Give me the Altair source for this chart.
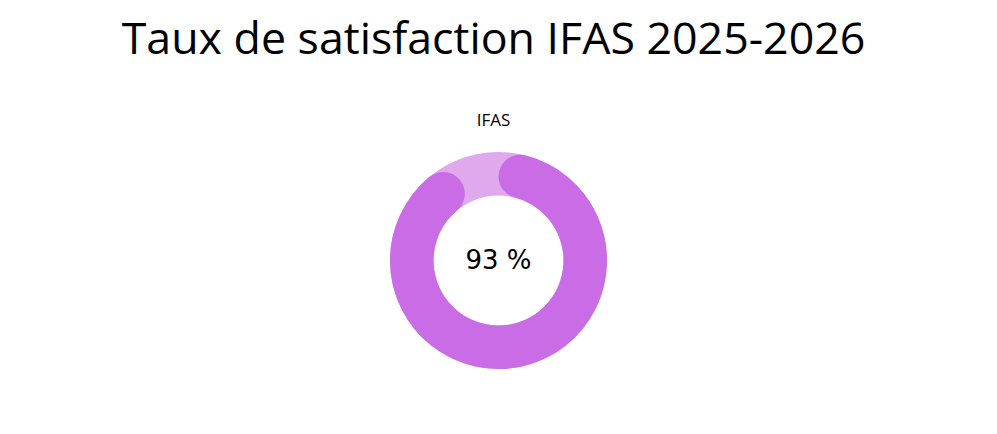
import altair as alt
import pandas as pd

title_text = "Taux de satisfaction IFAS 2025-2026"
subtitle_text = "IFAS"
satisfaction = [0.93]
label = ["93 %"]

bg = pd.DataFrame({"start": [0.0], "end": [1.0]})
fg = pd.DataFrame({"start": [0.0], "end": satisfaction, "label": label})

theta_scale = alt.Scale(domain=[0, 1])

ring = alt.Chart(bg).mark_arc(innerRadius=65, outerRadius=108.5, color="#e0a9ee").encode(
    theta=alt.Theta("start:Q", scale=theta_scale),
    theta2="end:Q",
)
arc = alt.Chart(fg).mark_arc(innerRadius=65, outerRadius=108.5, cornerRadius=22, color="#c96ce6").encode(
    theta=alt.Theta("start:Q", scale=theta_scale),
    theta2="end:Q",
)
txt = alt.Chart(fg).mark_text(font="DejaVu Sans", fontSize=26, color="#000000").encode(
    text="label:N"
)

chart = alt.layer(ring, arc, txt).properties(
    width=981,
    height=221,
    title=alt.TitleParams(
        text=title_text,
        subtitle=subtitle_text,
        font="Open Sans",
        fontSize=44.7,
        fontWeight="normal",
        color="#000000",
        subtitleFont="Open Sans",
        subtitleFontSize=17,
        subtitleColor="#000000",
        subtitlePadding=49,
        anchor="middle",
        offset=20,
        dx=-5,
    ),
    padding={"top": 10, "left": 0, "right": 0, "bottom": 0},
).configure_view(stroke=None)

chart.save("out.html", embed_options={"renderer": "svg", "actions": False})
